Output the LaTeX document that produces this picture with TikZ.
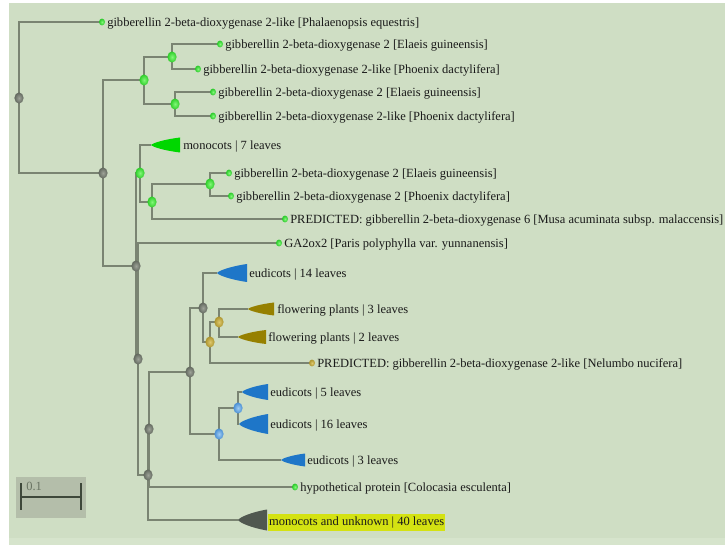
\documentclass[tikz,border=0pt]{standalone}
\usepackage{fontspec}
\setmainfont{Liberation Serif}
\usetikzlibrary{shapes.geometric,backgrounds}
\definecolor{bgc}{RGB}{207,222,196}
\definecolor{bgcb}{RGB}{214,228,204}
\definecolor{edgec}{RGB}{122,132,114}
\definecolor{txtc}{RGB}{25,25,25}
\definecolor{hlc}{RGB}{212,226,18}
\definecolor{sbbox}{RGB}{180,190,170}
\definecolor{sbbar}{RGB}{62,72,58}
\definecolor{sbtxt}{RGB}{105,115,98}
\definecolor{trgreen}{RGB}{0,215,0}
\definecolor{trblue}{RGB}{30,118,200}
\definecolor{trolive}{RGB}{150,128,0}
\definecolor{trdark}{RGB}{80,88,80}
\newcommand{\cladetri}[6]{%
  \coordinate (#1) at (#2,#3);
  \pgfmathsetmacro{\ctA}{#2+0.06*(#4-#2)}
  \pgfmathsetmacro{\ctB}{#2+0.45*(#4-#2)}
  \pgfmathsetmacro{\ctT}{#3-0.5*#5}
  \pgfmathsetmacro{\ctU}{#3+0.5*#5}
  \pgfmathsetmacro{\ctV}{#3-0.13*#5}
  \pgfmathsetmacro{\ctW}{#3+0.13*#5}
  \pgfmathsetmacro{\ctX}{#3-0.37*#5}
  \pgfmathsetmacro{\ctY}{#3+0.37*#5}
  \fill[#6] (#1) .. controls (\ctA,\ctV) and (\ctB,\ctX) .. (#4,\ctT) -- (#4,\ctU) .. controls (\ctB,\ctY) and (\ctA,\ctW) .. (#1) -- cycle;
}
\begin{document}
\begin{tikzpicture}[x=0.75pt,y=-0.75pt,
  edge/.style={draw=edgec,line width=1.4pt},
  inode/.style={ellipse,inner sep=0pt,minimum width=6.9pt,minimum height=8.3pt},
  gn/.style={inode,inner color={rgb,255:red,158;green,163;blue,152},outer color={rgb,255:red,98;green,104;blue,94}},
  grn/.style={inode,inner color={rgb,255:red,130;green,248;blue,120},outer color={rgb,255:red,45;green,205;blue,40}},
  oln/.style={inode,inner color={rgb,255:red,222;green,200;blue,110},outer color={rgb,255:red,172;green,148;blue,45}},
  bln/.style={inode,inner color={rgb,255:red,160;green,205;blue,242},outer color={rgb,255:red,72;green,142;blue,212}},
  leaf/.style={ellipse,inner sep=0pt,minimum width=4.5pt,minimum height=5.1pt},
  lfg/.style={leaf,inner color={rgb,255:red,130;green,248;blue,120},outer color={rgb,255:red,40;green,200;blue,40}},
  lfo/.style={leaf,inner color={rgb,255:red,222;green,200;blue,110},outer color={rgb,255:red,172;green,148;blue,45}},
  lab/.style={font=\fontsize{9.38pt}{11pt}\selectfont,text=txtc,inner sep=0pt,anchor=base west},
]
\useasboundingbox (0,0) rectangle (725,545);

% internal nodes
\node[gn] (nR) at (19,98) {};
\node[gn] (nA) at (103,173) {};
\node[grn] (nB) at (144,80) {};
\node[grn] (nC) at (172,57) {};
\node[grn] (nD) at (175,104) {};
\node[gn] (nH) at (136,266) {};
\node[grn] (nE) at (140,173) {};
\node[grn] (nF) at (152,202) {};
\node[grn] (nG) at (210,184) {};
\node[gn] (nI) at (138,359) {};
\node[gn] (nJ) at (148,475) {};
\node[gn] (nK) at (149,429) {};
\node[gn] (nL) at (190,372) {};
\node[gn] (nM) at (203,308) {};
\node[oln] (nO) at (210,342) {};
\node[oln] (nP) at (219,322) {};
\node[bln] (nN) at (219,434) {};
\node[bln] (nQ) at (238,408) {};

% leaves
\node[lfg] (lf1) at (102,22) {};
\node[lfg] (lf2) at (220,44) {};
\node[lfg] (lf3) at (198,69) {};
\node[lfg] (lf4) at (213,92) {};
\node[lfg] (lf5) at (213,116) {};
\node[lfg] (lf6) at (229,173) {};
\node[lfg] (lf7) at (231,196) {};
\node[lfg] (lf8) at (285,219) {};
\node[lfg] (lf9) at (279,243) {};
\node[lfo] (lf10) at (312,363) {};
\node[lfg] (lf11) at (295,487) {};

\node[lab] (tx1) at ([shift={(3.75pt,-3.2pt)}]lf1.center) {gibberellin 2-beta-dioxygenase 2-like [Phalaenopsis equestris]};
\node[lab] (tx2) at ([shift={(3.75pt,-3.2pt)}]lf2.center) {gibberellin 2-beta-dioxygenase 2 [Elaeis guineensis]};
\node[lab] (tx3) at ([shift={(3.75pt,-3.2pt)}]lf3.center) {gibberellin 2-beta-dioxygenase 2-like [Phoenix dactylifera]};
\node[lab] (tx4) at ([shift={(3.75pt,-3.2pt)}]lf4.center) {gibberellin 2-beta-dioxygenase 2 [Elaeis guineensis]};
\node[lab] (tx5) at ([shift={(3.75pt,-3.2pt)}]lf5.center) {gibberellin 2-beta-dioxygenase 2-like [Phoenix dactylifera]};
\node[lab] (tx6) at ([shift={(3.75pt,-3.2pt)}]lf6.center) {gibberellin 2-beta-dioxygenase 2 [Elaeis guineensis]};
\node[lab] (tx7) at ([shift={(3.75pt,-3.2pt)}]lf7.center) {gibberellin 2-beta-dioxygenase 2 [Phoenix dactylifera]};
\node[lab] (tx8) at ([shift={(3.75pt,-3.2pt)}]lf8.center) {PREDICTED: gibberellin 2-beta-dioxygenase 6 [Musa acuminata subsp. malaccensis]};
\node[lab] (tx9) at ([shift={(3.75pt,-3.2pt)}]lf9.center) {GA2ox2 [Paris polyphylla var. yunnanensis]};
\node[lab] (tx10) at ([shift={(3.75pt,-3.2pt)}]lf10.center) {PREDICTED: gibberellin 2-beta-dioxygenase 2-like [Nelumbo nucifera]};
\node[lab] (tx11) at ([shift={(3.75pt,-3.2pt)}]lf11.center) {hypothetical protein [Colocasia esculenta]};

% collapsed clades
\cladetri{tr1}{151}{145}{180}{15}{trgreen}
\cladetri{tr2}{217}{273}{247}{18}{trblue}
\cladetri{tr3}{248}{309}{274}{13}{trolive}
\cladetri{tr4}{238}{337}{266}{14}{trolive}
\cladetri{tr5}{242}{392}{268}{16}{trblue}
\cladetri{tr6}{239}{424}{268}{20}{trblue}
\cladetri{tr7}{281}{460}{305}{13}{trblue}
\cladetri{tr8}{238}{520}{267}{21}{trdark}

\node[lab] (ty1) at (183,149.3) {monocots | 7 leaves};
\node[lab] (ty2) at (249,277.3) {eudicots | 14 leaves};
\node[lab] (ty3) at (277,313.3) {flowering plants | 3 leaves};
\node[lab] (ty4) at (268,341.3) {flowering plants | 2 leaves};
\node[lab] (ty5) at (270,396.3) {eudicots | 5 leaves};
\node[lab] (ty6) at (270,428.3) {eudicots | 16 leaves};
\node[lab] (ty7) at (307,464.3) {eudicots | 3 leaves};
\node[lab,anchor=west,fill=hlc,inner xsep=0.6pt,inner ysep=0pt,minimum height=12.75pt,text height=7.5pt,text depth=3pt] (ty8) at (268,522.5) {monocots and unknown | 40 leaves};

% scale bar
\fill[sbbox] (16,477) rectangle (86,518);
\coordinate (sbL) at (21,497);
\coordinate (sbR) at (81,497);
\draw[sbbar,line width=1.5pt] (sbL) -- (sbR);
\draw[sbbar,line width=1.5pt] ([yshift=10.5pt]sbL) -- ([yshift=-9.75pt]sbL);
\draw[sbbar,line width=1.5pt] ([yshift=10.5pt]sbR) -- ([yshift=-9.75pt]sbR);
\node[lab,text=sbtxt] (sbt) at (26,490.5) {0.1};

\begin{pgfonlayer}{background}
\fill[white] (0,0) rectangle (725,545);
\fill[bgc] (9,3) rectangle (725,538);
\fill[bgcb] (9,538) rectangle (725,545);
\draw[edge] (nR.center) |- (lf1.center);
\draw[edge] (nR.center) |- (nA.center);
\draw[edge] (nA.center) |- (nB.center);
\draw[edge] (nA.center) |- (nH.center);
\draw[edge] (nB.center) |- (nC.center);
\draw[edge] (nB.center) |- (nD.center);
\draw[edge] (nC.center) |- (lf2.center);
\draw[edge] (nC.center) |- (lf3.center);
\draw[edge] (nD.center) |- (lf4.center);
\draw[edge] (nD.center) |- (lf5.center);
\draw[edge] (nH.center) |- (nE.center);
\draw[edge] (nH.center) |- (nI.center);
\draw[edge] (nE.center) |- (tr1);
\draw[edge] (nE.center) |- (nF.center);
\draw[edge] (nF.center) |- (nG.center);
\draw[edge] (nF.center) |- (lf8.center);
\draw[edge] (nG.center) |- (lf6.center);
\draw[edge] (nG.center) |- (lf7.center);
\draw[edge] (nI.center) |- (lf9.center);
\draw[edge] (nI.center) |- (nJ.center);
\draw[edge] (nJ.center) |- (nK.center);
\draw[edge] (nJ.center) |- (tr8);
\draw[edge] (nK.center) |- (nL.center);
\draw[edge] (nK.center) |- (lf11.center);
\draw[edge] (nL.center) |- (nM.center);
\draw[edge] (nL.center) |- (nN.center);
\draw[edge] (nM.center) |- (tr2);
\draw[edge] (nM.center) |- (nO.center);
\draw[edge] (nO.center) |- (nP.center);
\draw[edge] (nO.center) |- (lf10.center);
\draw[edge] (nP.center) |- (tr3);
\draw[edge] (nP.center) |- (tr4);
\draw[edge] (nN.center) |- (nQ.center);
\draw[edge] (nN.center) |- (tr7);
\draw[edge] (nQ.center) |- (tr5);
\draw[edge] (nQ.center) |- (tr6);
\end{pgfonlayer}
\end{tikzpicture}
\end{document}
